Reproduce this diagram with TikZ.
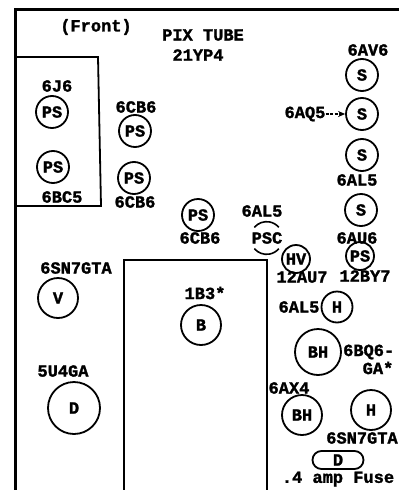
\documentclass[tikz,border=0pt]{standalone}
\usepackage{fontspec}
\setmonofont[BoldFeatures={FakeBold=1.6}]{Liberation Mono}
\usetikzlibrary{shapes.misc,arrows.meta}

\tikzset{
  tube/.style={circle, draw, line width=1.8pt, inner sep=0pt},
  tubetext/.style={inner sep=0pt},
  wall/.style={line width=1.8pt},
  every node/.append style={font=\ttfamily\bfseries\fontsize{17}{17}\selectfont},
}

\begin{document}
\begin{tikzpicture}[x=1pt,y=-1pt]
  \useasboundingbox (0,0) rectangle (399,490);

  % chassis outline and shields
  \coordinate (topr) at (399,9);
  \coordinate (topl) at (15,9);
  \coordinate (botl) at (15,490);
  \draw[line width=3pt] (topr) -- (topl) -- (botl);
  \draw[wall] (15,57) -- (98,57) -- (101,206) -- (15,206);
  \draw[wall] (124,490) -- (124,260) -- (267,260) -- (267,490);

  % front shield
  \node [tube, minimum size=32](psa) at (52,112) {PS};
  \node [tube, minimum size=32](psb) at (53,167) {PS};
  \node [tube, minimum size=32](psc) at (135,131) {PS};
  \node [tube, minimum size=32](psd) at (134,178) {PS};
  \node [tube, minimum size=32](pse) at (198,215) {PS};

  % sound strip
  \node [tube, minimum size=32](sa) at (362,75) {S};
  \node [tube, minimum size=32](sb) at (362,114) {S};
  \node [tube, minimum size=32](sc) at (362,155) {S};
  \node [tube, minimum size=32](sd) at (361,210) {S};

  \node [tube, minimum size=28](hv) at (296,259) {HV};
  \node [tube, minimum size=28](psf) at (360,256) {PS};
  \node [tube, minimum size=31](ha) at (337,307) {H};
  \node [tube, minimum size=46](bha) at (318,352) {BH};
  \node [tube, minimum size=40](bhb) at (302,415) {BH};
  \node [tube, minimum size=40](hb) at (371,410) {H};
  \node [tube, minimum size=40](b) at (201,325) {B};
  \node [tube, minimum size=40](v) at (58,298) {V};
  \node [tube, minimum size=52](d) at (74,408) {D};
  \node [rounded rectangle, draw, line width=1.8pt, inner sep=0pt, minimum width=51, minimum height=18](fuse) at (338,460) {D};

  % open tube with two arcs only
  \node [tubetext, circle, minimum size=32](pscomp) at (267,238) {PSC};
  \draw[line width=1.6pt] (pscomp.140) arc[start angle=140, end angle=40, radius=16pt];
  \draw[line width=1.6pt] (pscomp.220) arc[start angle=220, end angle=320, radius=16pt];

  % type numbers
  \node [tubetext](front) at (96,27) {(Front)};
  \node [tubetext](pix) at (203,35) {PIX TUBE};
  \node [tubetext](pixno) at (198,55) {21YP4};
  \node [tubetext](jsix) at (57,86) {6J6};
  \node [tubetext](bcfive) at (62,197) {6BC5};
  \node [tubetext](cba) at (136,107) {6CB6};
  \node [tubetext](cbb) at (135,202) {6CB6};
  \node [tubetext](cbc) at (200,238) {6CB6};
  \node [tubetext](avsix) at (368,50) {6AV6};
  \node [tubetext](aqfive) at (305,114) {6AQ5};
  \node [tubetext](alfa) at (357,180) {6AL5};
  \node [tubetext](ausix) at (357,238) {6AU6};
  \node [tubetext](alfb) at (262,211) {6AL5};
  \node [tubetext](auseven) at (302,277) {12AU7};
  \node [tubetext](byseven) at (365,276) {12BY7};
  \node [tubetext](alfc) at (299,307) {6AL5};
  \node [tubetext, anchor=west](bqsix) at (343,352) {6BQ6-};
  \node [tubetext](ga) at (378,368) {GA*};
  \node [tubetext](axfour) at (289,388) {6AX4};
  \node [tubetext](snb) at (362,438) {6SN7GTA};
  \node [tubetext](amp) at (338,479) {.4 amp Fuse};
  \node [tubetext](bthree) at (205,293) {1B3*};
  \node [tubetext](sna) at (76,268) {6SN7GTA};
  \node [tubetext](ufour) at (63,371) {5U4GA};

  \draw[-{Stealth[length=7pt,width=6pt]}, line width=1.2pt, dash pattern=on 3pt off 1.5pt] (aqfive) -- (sb);
\end{tikzpicture}
\end{document}
